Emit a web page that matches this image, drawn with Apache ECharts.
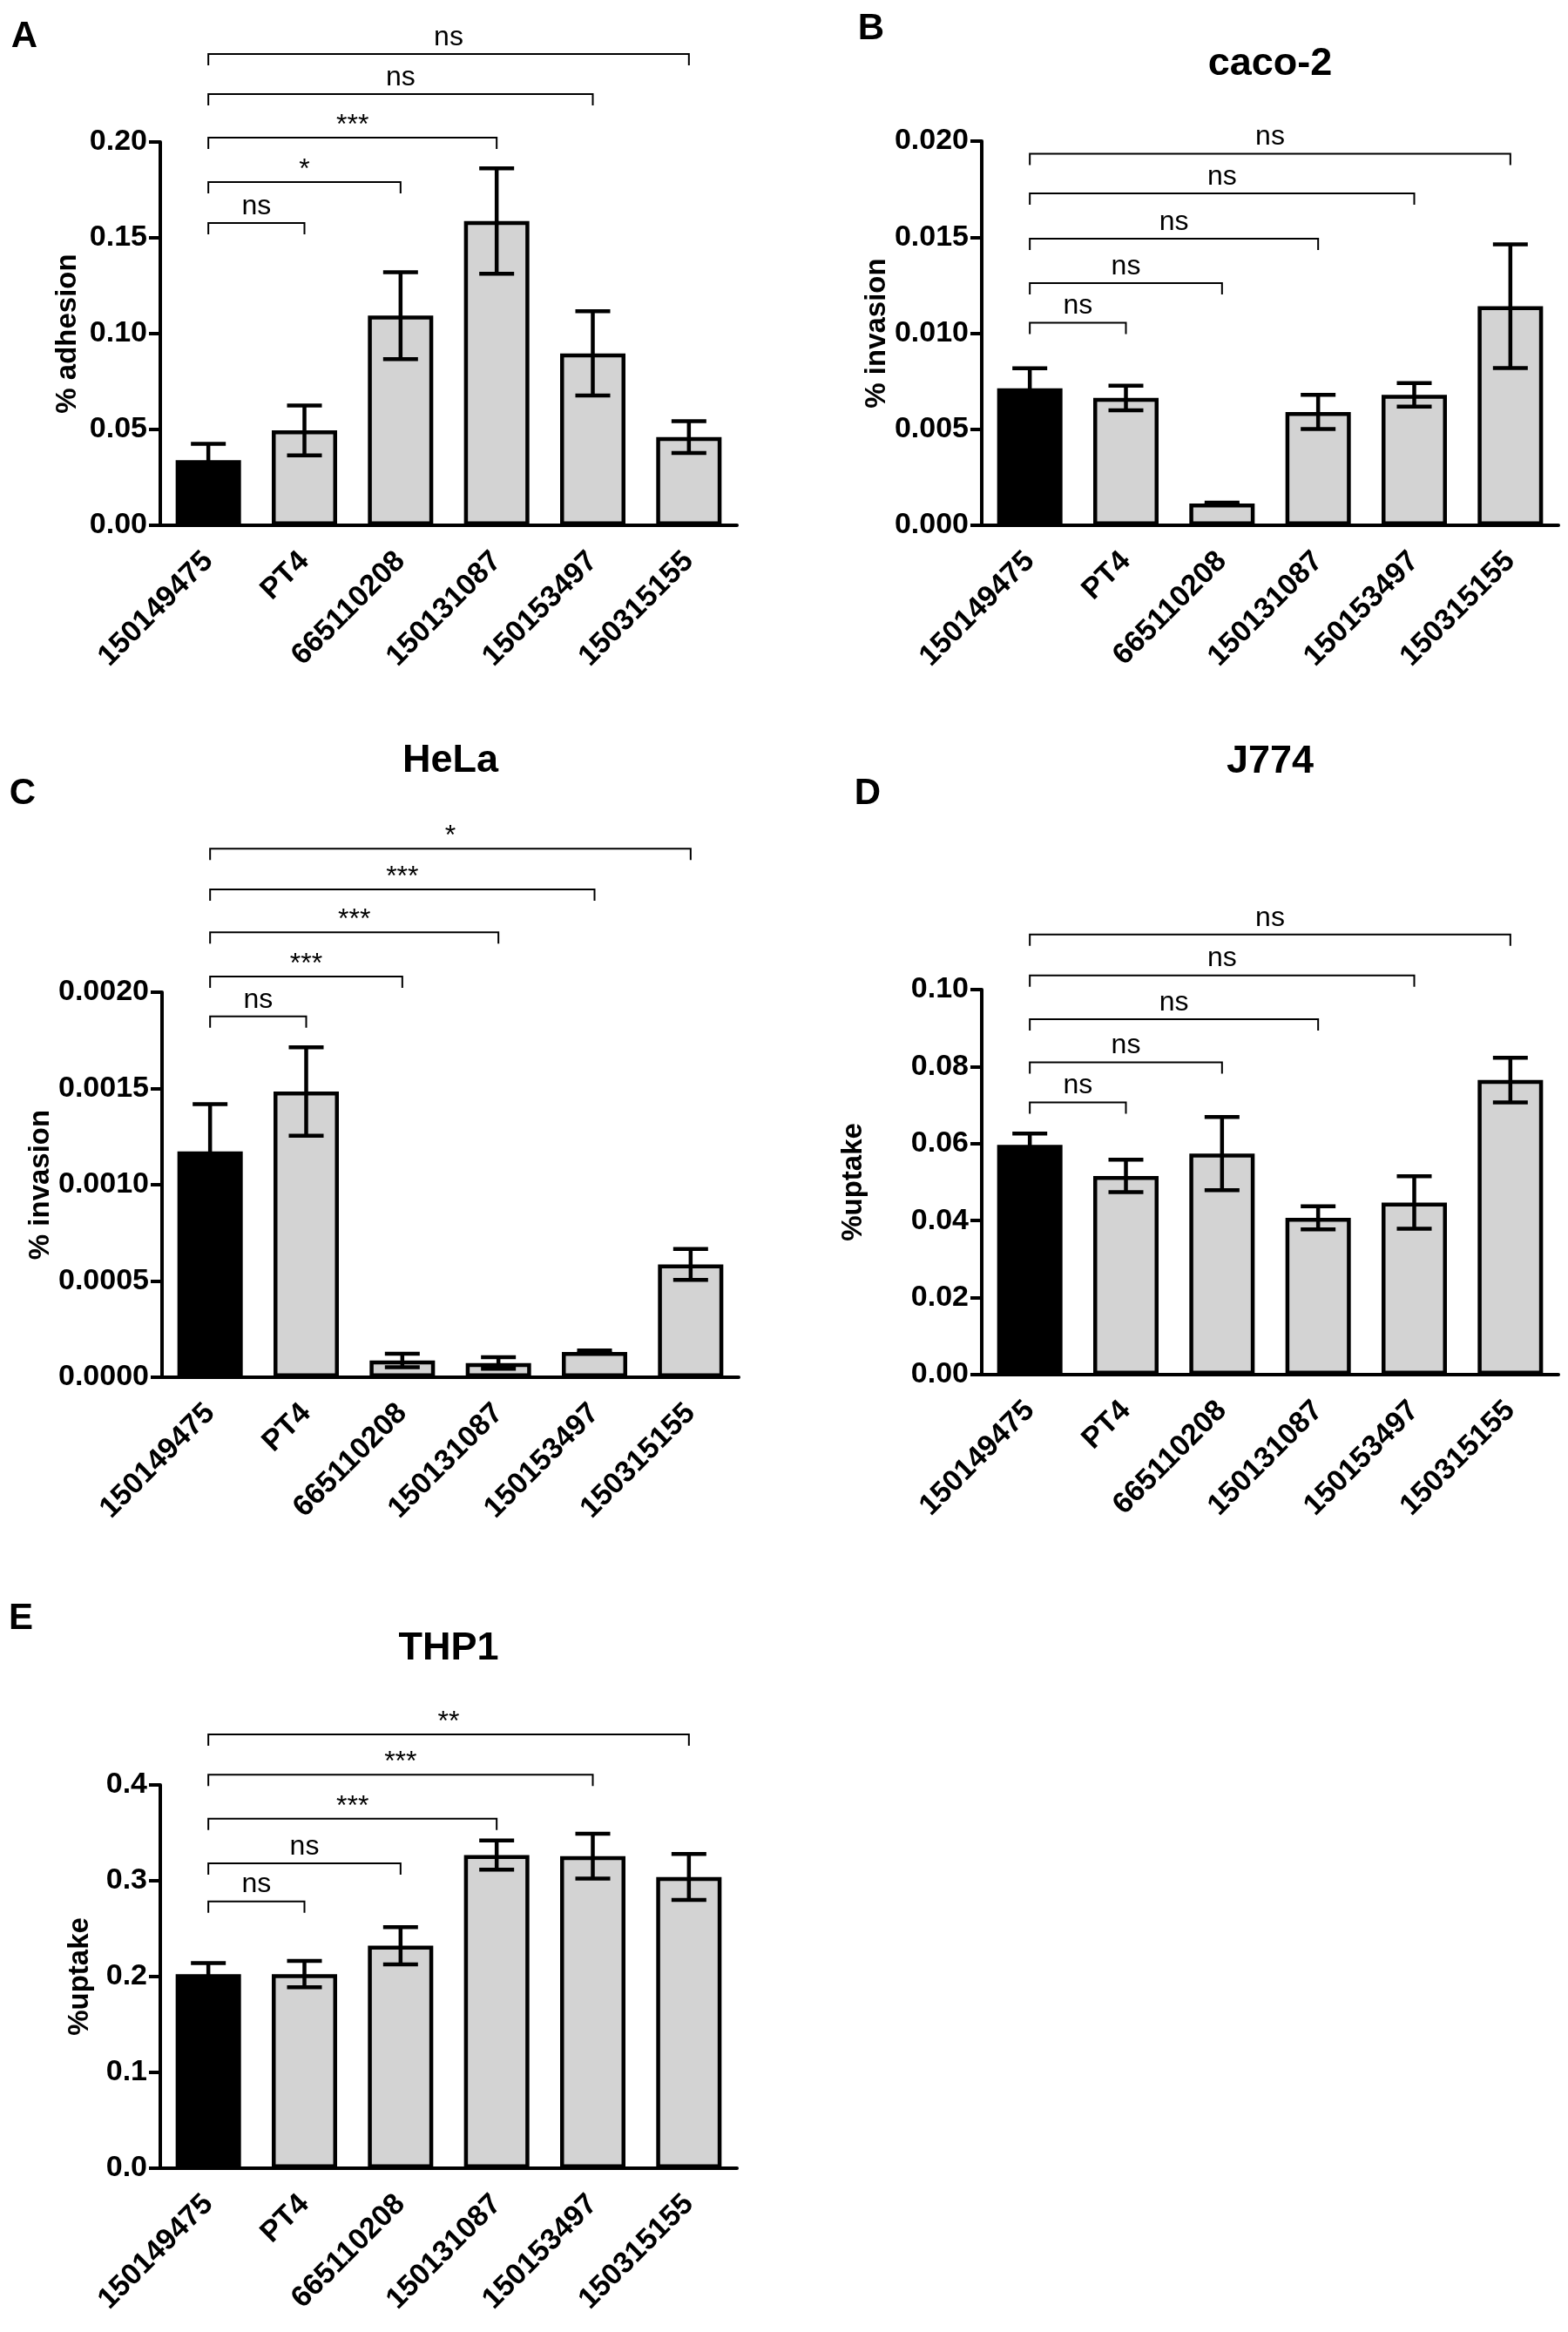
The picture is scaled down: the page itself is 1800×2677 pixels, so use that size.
<!DOCTYPE html>
<html>
<head>
<meta charset="utf-8">
<script src="https://cdn.jsdelivr.net/npm/echarts@6/dist/echarts.min.js"></script>
<style>
    html, body { margin: 0; padding: 0; background: #fff; }
    #chart { width: 1800px; height: 2677px; }
</style>
</head>
<body>
<div id="chart"></div>
<script>
const FONT = '"Liberation Sans", Arial, sans-serif';

const strains = ['150149475', 'PT4', '665110208', '150131087', '150153497', '150315155'];

// A - adhesion
const adhesionMean = [0.034, 0.0495, 0.1094, 0.1588, 0.0897, 0.046];
const adhesionSem = [0.0085, 0.013, 0.0227, 0.0275, 0.022, 0.0083];
const adhesionTicks = [0, 0.05, 0.10, 0.15, 0.20];
// [compared strain index, bracket height, label] - always against strain 0
const adhesionSig = [[1, 0.1577, 'ns'], [2, 0.1791, '*'], [3, 0.2023, '***'], [4, 0.2250, 'ns'], [5, 0.2459, 'ns']];

// B - caco-2 invasion
const cacoMean = [0.00713, 0.00663, 0.00113, 0.0059, 0.00679, 0.01141];
const cacoSem = [0.00104, 0.00064, 0.00005, 0.00089, 0.00061, 0.00322];
const cacoTicks = [0, 0.005, 0.010, 0.015, 0.020];
const cacoSig = [[1, 0.01054, 'ns'], [2, 0.01261, 'ns'], [3, 0.01492, 'ns'], [4, 0.01728, 'ns'], [5, 0.01934, 'ns']];

// C - HeLa invasion
const helaMean = [0.001173, 0.001484, 0.000087, 0.000074, 0.000131, 0.000586];
const helaSem = [0.000246, 0.00023, 0.000035, 0.00003, 0.000008, 0.00008];
const helaTicks = [0, 0.0005, 0.0010, 0.0015, 0.0020];
const helaSig = [[1, 0.001874, 'ns'], [2, 0.002081, '***'], [3, 0.002311, '***'], [4, 0.002534, '***'], [5, 0.002745, '*']];

// D - J774 uptake
const j774Mean = [0.0597, 0.0516, 0.0574, 0.0407, 0.0447, 0.0765];
const j774Sem = [0.0029, 0.0042, 0.0095, 0.003, 0.0068, 0.0058];
const j774Ticks = [0, 0.02, 0.04, 0.06, 0.08, 0.10];
const j774Sig = [[1, 0.0707, 'ns'], [2, 0.0811, 'ns'], [3, 0.0923, 'ns'], [4, 0.1037, 'ns'], [5, 0.1143, 'ns']];

// E - THP1 uptake
const thp1Mean = [0.2026, 0.2026, 0.2322, 0.3268, 0.3257, 0.3039];
const thp1Sem = [0.0115, 0.0138, 0.0195, 0.0153, 0.0234, 0.024];
const thp1Ticks = [0, 0.1, 0.2, 0.3, 0.4];
const thp1Sig = [[1, 0.2785, 'ns'], [2, 0.3182, 'ns'], [3, 0.3648, '***'], [4, 0.4106, '***'], [5, 0.4527, '**']];

const panels = [
    { letter: 'A', letterPos: [28, 42], title: '', yName: '% adhesion', nameGap: 90, decimals: 2,
      grid: { left: 184, top: 163, width: 662, height: 440 },
      mean: adhesionMean, sem: adhesionSem, ticks: adhesionTicks, sig: adhesionSig },
    { letter: 'B', letterPos: [1000, 33], title: 'caco-2', titleY: 74, yName: '% invasion', nameGap: 99, decimals: 3,
      grid: { left: 1127, top: 162, width: 662, height: 441 },
      mean: cacoMean, sem: cacoSem, ticks: cacoTicks, sig: cacoSig },
    { letter: 'C', letterPos: [26, 911], title: 'HeLa', titleY: 874, yName: '% invasion', nameGap: 119, decimals: 4,
      grid: { left: 186, top: 1139, width: 662, height: 442 },
      mean: helaMean, sem: helaSem, ticks: helaTicks, sig: helaSig },
    { letter: 'D', letterPos: [996, 911], title: 'J774', titleY: 875, yName: '%uptake', nameGap: 131, decimals: 2,
      grid: { left: 1127, top: 1136, width: 662, height: 442 },
      mean: j774Mean, sem: j774Sem, ticks: j774Ticks, sig: j774Sig },
    { letter: 'E', letterPos: [24, 1858], title: 'THP1', titleY: 1893, yName: '%uptake', nameGap: 76, decimals: 1,
      grid: { left: 184, top: 2049, width: 662, height: 440 },
      mean: thp1Mean, sem: thp1Sem, ticks: thp1Ticks, sig: thp1Sig }
];

function renderErrorBar(params, api) {
    const i = api.value(0);
    const m = api.value(1);
    const s = api.value(2);
    const hi = api.coord([i, m + s]);
    const lo = api.coord([i, m - s]);
    const cap = 20;
    const line = (x1, y1, x2, y2) => ({
        type: 'line',
        shape: { x1, y1, x2, y2 },
        style: { stroke: '#000', lineWidth: 4.5 }
    });
    return {
        type: 'group',
        children: [
            line(hi[0], hi[1], lo[0], lo[1]),
            line(hi[0] - cap, hi[1], hi[0] + cap, hi[1]),
            line(lo[0] - cap, lo[1], lo[0] + cap, lo[1])
        ]
    };
}

function makeBracketRenderer(sig) {
    return function (params, api) {
        const h = api.value(1);
        const a = api.coord([0, h]);
        const b = api.coord([api.value(0), h]);
        const drop = 13;
        const label = sig[params.dataIndex][2];
        const stars = label.indexOf('*') >= 0;
        return {
            type: 'group',
            children: [
                {
                    type: 'polyline',
                    shape: { points: [[a[0], a[1] + drop], [a[0], a[1]], [b[0], b[1]], [b[0], b[1] + drop]] },
                    style: { stroke: '#000', lineWidth: 2, fill: null }
                },
                {
                    type: 'text',
                    x: (a[0] + b[0]) / 2,
                    y: a[1] + (stars ? 2 : -3),
                    style: {
                        text: label,
                        textAlign: 'center',
                        textVerticalAlign: 'bottom',
                        fontSize: 32,
                        fontFamily: FONT,
                        fill: '#000'
                    }
                }
            ]
        };
    };
}

const grids = [], xAxes = [], yAxes = [], series = [], graphics = [];

panels.forEach((p, k) => {
    grids.push(p.grid);

    xAxes.push({
        type: 'category',
        gridIndex: k,
        data: strains,
        axisLine: { lineStyle: { color: '#000', width: 4 } },
        axisTick: { alignWithLabel: true, length: 13, lineStyle: { color: '#000', width: 4 } },
        axisLabel: {
            interval: 0, rotate: 45, margin: 36,
            color: '#000', fontSize: 34, fontWeight: 'bold', fontFamily: FONT
        }
    });

    const dec = p.decimals;
    yAxes.push({
        type: 'value',
        gridIndex: k,
        min: p.ticks[0],
        max: p.ticks[p.ticks.length - 1],
        interval: p.ticks[1] - p.ticks[0],
        name: p.yName,
        nameLocation: 'middle',
        nameGap: p.nameGap,
        nameTextStyle: { color: '#000', fontSize: 33, fontWeight: 'bold', fontFamily: FONT },
        axisLine: { show: true, lineStyle: { color: '#000', width: 4 } },
        axisTick: { show: true, length: 13, lineStyle: { color: '#000', width: 4 } },
        splitLine: { show: false },
        axisLabel: {
            margin: 15, color: '#000', fontSize: 34, fontWeight: 'bold', fontFamily: FONT,
            formatter: v => v.toFixed(dec)
        }
    });

    series.push({
        type: 'bar',
        xAxisIndex: k,
        yAxisIndex: k,
        barWidth: 75,
        data: p.mean.map((m, i) => ({
            value: m,
            itemStyle: { color: i === 0 ? '#000' : '#d3d3d3' }
        })),
        itemStyle: { borderColor: '#000', borderWidth: 4.5 },
        animation: false,
        z: 2
    });

    series.push({
        type: 'custom',
        xAxisIndex: k,
        yAxisIndex: k,
        renderItem: renderErrorBar,
        data: p.mean.map((m, i) => [i, m, p.sem[i]]),
        encode: { x: 0, y: 1 },
        animation: false,
        z: 3
    });

    series.push({
        type: 'custom',
        xAxisIndex: k,
        yAxisIndex: k,
        renderItem: makeBracketRenderer(p.sig),
        data: p.sig.map(s => [s[0], s[1]]),
        encode: { x: 0, y: 1 },
        clip: false,
        animation: false,
        z: 4
    });

    graphics.push({
        type: 'text',
        x: p.letterPos[0],
        y: p.letterPos[1],
        style: {
            text: p.letter, textAlign: 'center', textVerticalAlign: 'middle',
            font: 'bold 42px ' + FONT, fill: '#000'
        }
    });
    if (p.title) {
        graphics.push({
            type: 'text',
            x: p.grid.left + p.grid.width / 2,
            y: p.titleY,
            style: {
                text: p.title, textAlign: 'center', textVerticalAlign: 'middle',
                font: 'bold 45px ' + FONT, fill: '#000'
            }
        });
    }
});

const chart = echarts.init(document.getElementById('chart'), null, { renderer: 'canvas' });
chart.setOption({
    backgroundColor: '#fff',
    animation: false,
    grid: grids,
    xAxis: xAxes,
    yAxis: yAxes,
    series: series,
    graphic: graphics
});
</script>
</body>
</html>
